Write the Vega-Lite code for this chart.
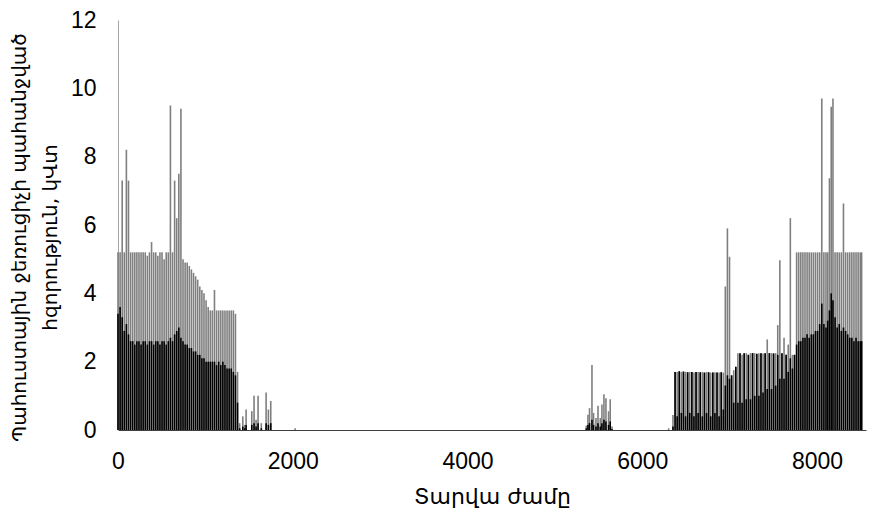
{
 "$schema": "https://vega.github.io/schema/vega-lite/v6.json",
 "width": 748,
 "height": 410,
 "autosize": {"type": "none"},
 "padding": {"left": 118, "top": 20, "right": 3, "bottom": 85},
 "background": "white",
 "config": {
  "view": {"stroke": null},
  "axis": {"grid": false, "ticks": false, "labelFont": "Liberation Sans Narrow, Liberation Sans", "labelFontSize": 23, "labelColor": "#000", "titleColor": "#000", "titleFont": "DejaVu Sans", "labelFlush": false}
 },
 "data": {"values": [
  {"h":0,"p":5.2,"b":3.4},{"h":24,"p":5.2,"b":3.6},{"h":48,"p":7.3,"b":3.3},{"h":72,"p":5.2,"b":2.9},{"h":96,"p":8.2,"b":3.1},{"h":120,"p":7.3,"b":2.8},{"h":144,"p":5.2,"b":2.6},{"h":168,"p":5.2,"b":2.6},{"h":192,"p":5.2,"b":2.5},{"h":216,"p":5.2,"b":2.6},{"h":240,"p":5.2,"b":2.6},{"h":264,"p":5.2,"b":2.5},{"h":288,"p":5.2,"b":2.6},{"h":312,"p":5.2,"b":2.6},{"h":336,"p":5.1,"b":2.5},{"h":360,"p":5.2,"b":2.6},{"h":384,"p":5.5,"b":2.6},{"h":408,"p":5.2,"b":2.5},{"h":432,"p":5.2,"b":2.6},{"h":456,"p":5.1,"b":2.6},{"h":480,"p":5.2,"b":2.5},{"h":504,"p":5.2,"b":2.6},{"h":528,"p":5.0,"b":2.6},{"h":552,"p":5.2,"b":2.5},{"h":576,"p":5.2,"b":2.6},{"h":600,"p":9.5,"b":2.7},{"h":624,"p":5.2,"b":2.6},{"h":648,"p":7.3,"b":2.8},{"h":672,"p":6.2,"b":2.9},{"h":696,"p":7.5,"b":3.0},{"h":720,"p":9.4,"b":2.7},{"h":744,"p":5.0,"b":2.6},{"h":768,"p":4.9,"b":2.5},{"h":792,"p":4.9,"b":2.5},{"h":816,"p":4.8,"b":2.4},{"h":840,"p":4.7,"b":2.4},{"h":864,"p":4.6,"b":2.3},{"h":888,"p":4.5,"b":2.3},{"h":912,"p":4.4,"b":2.2},{"h":936,"p":4.2,"b":2.2},{"h":960,"p":4.1,"b":2.1},{"h":984,"p":4.0,"b":2.1},{"h":1008,"p":3.8,"b":2.0},{"h":1032,"p":3.6,"b":2.0},{"h":1056,"p":3.5,"b":2.0},{"h":1080,"p":3.5,"b":2.0},{"h":1104,"p":4.1,"b":2.0},{"h":1128,"p":3.5,"b":1.9},{"h":1152,"p":3.5,"b":2.0},{"h":1176,"p":3.5,"b":1.9},{"h":1200,"p":3.5,"b":2.0},{"h":1224,"p":3.5,"b":1.9},{"h":1248,"p":3.5,"b":1.8},{"h":1272,"p":3.5,"b":1.8},{"h":1296,"p":3.5,"b":1.8},{"h":1320,"p":3.5,"b":1.7},{"h":1344,"p":3.4,"b":1.6},{"h":1368,"p":1.7,"b":0.8},{"h":1392,"p":0.2,"b":0.05},{"h":1428,"p":0.4,"b":0.1},{"h":1450,"p":0.15,"b":0.05},{"h":1466,"p":0.6,"b":0.15},{"h":1531,"p":0.55,"b":0.15},{"h":1557,"p":1.0,"b":0.2},{"h":1580,"p":0.3,"b":0.1},{"h":1603,"p":1.0,"b":0.2},{"h":1640,"p":0.2,"b":0.05},{"h":1695,"p":1.1,"b":0.2},{"h":1721,"p":0.6,"b":0.15},{"h":1748,"p":0.85,"b":0.2},{"h":2027,"p":0.05,"b":0},
  {"h":5359,"p":0.13,"b":0.05},{"h":5378,"p":0.45,"b":0.15},{"h":5396,"p":0.64,"b":0.2},{"h":5424,"p":1.9,"b":0.3},{"h":5442,"p":0.5,"b":0.15},{"h":5470,"p":0.35,"b":0.1},{"h":5493,"p":0.71,"b":0.2},{"h":5519,"p":0.35,"b":0.1},{"h":5538,"p":0.75,"b":0.2},{"h":5561,"p":1.05,"b":0.3},{"h":5584,"p":0.93,"b":0.25},{"h":5614,"p":0.55,"b":0.15},{"h":5633,"p":0.9,"b":0.25},{"h":5653,"p":0.1,"b":0.03},
  {"h":6301,"p":0.05,"b":0},{"h":6351,"p":0.44,"b":0.1},{"h":6375,"p":1.7,"b":1.7},{"h":6399,"p":1.7,"b":0.4},{"h":6423,"p":1.72,"b":1.72},{"h":6447,"p":1.7,"b":0.5},{"h":6471,"p":1.71,"b":1.71},{"h":6495,"p":1.7,"b":0.4},{"h":6519,"p":1.69,"b":1.69},{"h":6543,"p":1.7,"b":0.5},{"h":6567,"p":1.7,"b":1.7},{"h":6591,"p":1.68,"b":0.4},{"h":6615,"p":1.7,"b":1.7},{"h":6639,"p":1.7,"b":0.5},{"h":6663,"p":1.69,"b":1.69},{"h":6687,"p":1.7,"b":0.4},{"h":6711,"p":1.68,"b":1.68},{"h":6735,"p":1.7,"b":0.5},{"h":6759,"p":1.69,"b":1.69},{"h":6783,"p":1.68,"b":0.4},{"h":6807,"p":1.68,"b":1.68},{"h":6831,"p":1.69,"b":0.5},{"h":6855,"p":1.68,"b":1.68},{"h":6879,"p":1.68,"b":0.4},{"h":6903,"p":1.69,"b":1.69},{"h":6927,"p":1.68,"b":0.6},{"h":6950,"p":4.2,"b":1.3},{"h":6974,"p":5.9,"b":1.6},{"h":6998,"p":5.07,"b":1.5},{"h":7022,"p":1.6,"b":1.6},{"h":7046,"p":1.75,"b":0.8},{"h":7070,"p":1.85,"b":1.85},
  {"h":7094,"p":2.25,"b":0.8},{"h":7118,"p":2.25,"b":2.25},{"h":7142,"p":2.2,"b":0.8},{"h":7166,"p":2.25,"b":2.25},{"h":7190,"p":2.25,"b":0.9},{"h":7214,"p":2.2,"b":2.2},{"h":7238,"p":2.25,"b":0.9},{"h":7262,"p":2.25,"b":2.25},{"h":7286,"p":2.25,"b":1.0},{"h":7310,"p":2.23,"b":2.23},{"h":7334,"p":2.25,"b":1.0},{"h":7358,"p":2.25,"b":2.25},{"h":7382,"p":2.24,"b":1.1},{"h":7406,"p":2.25,"b":2.25},{"h":7430,"p":2.65,"b":1.2},{"h":7454,"p":2.25,"b":2.25},{"h":7478,"p":2.25,"b":1.2},{"h":7502,"p":2.24,"b":2.24},{"h":7526,"p":2.25,"b":1.3},{"h":7550,"p":3.07,"b":2.2},{"h":7574,"p":4.97,"b":1.5},{"h":7598,"p":2.25,"b":2.25},{"h":7622,"p":2.7,"b":1.5},{"h":7646,"p":2.2,"b":2.2},{"h":7670,"p":2.5,"b":1.7},{"h":7694,"p":6.2,"b":2.1},{"h":7718,"p":2.2,"b":1.8},{"h":7742,"p":2.2,"b":2.2},
  {"h":7766,"p":5.2,"b":2.5},{"h":7790,"p":5.2,"b":2.6},{"h":7814,"p":5.2,"b":2.6},{"h":7838,"p":5.2,"b":2.7},{"h":7862,"p":5.2,"b":2.7},{"h":7886,"p":5.2,"b":2.8},{"h":7910,"p":5.2,"b":2.7},{"h":7934,"p":5.2,"b":2.8},{"h":7958,"p":5.2,"b":2.8},{"h":7982,"p":5.2,"b":2.9},{"h":8006,"p":5.2,"b":2.9},{"h":8030,"p":5.2,"b":3.1},{"h":8054,"p":9.7,"b":3.7},{"h":8078,"p":5.2,"b":3.1},{"h":8102,"p":5.2,"b":3.0},{"h":8122,"p":5.2,"b":3.2},{"h":8142,"p":7.37,"b":3.5},{"h":8162,"p":9.46,"b":4.0},{"h":8182,"p":9.7,"b":3.8},{"h":8206,"p":5.2,"b":3.3},{"h":8230,"p":5.2,"b":3.0},{"h":8254,"p":5.2,"b":3.1},{"h":8278,"p":5.2,"b":2.9},{"h":8302,"p":6.63,"b":3.0},{"h":8326,"p":5.2,"b":2.9},{"h":8350,"p":5.2,"b":2.8},{"h":8374,"p":5.2,"b":2.7},{"h":8398,"p":5.2,"b":2.7},{"h":8422,"p":5.2,"b":2.6},{"h":8446,"p":5.2,"b":2.7},{"h":8470,"p":5.2,"b":2.6},{"h":8494,"p":5.2,"b":2.6},{"h":8510,"p":5.2,"b":2.6}
 ]},
 "layer": [
  {
   "mark": {"type": "rule", "color": "#7f7f7f", "strokeWidth": 1.6},
   "encoding": {
    "x": {"field": "h", "type": "quantitative", "scale": {"domain": [0, 8560], "nice": false},
          "axis": {"values": [0, 2000, 4000, 6000, 8000], "format": "d", "labelPadding": 20, "domainColor": "#404040", "title": "Տարվա ժամը", "titleFontSize": 22, "titleFontWeight": "normal", "titleY": 66, "titleBaseline": "middle"}},
    "y": {"field": "p", "type": "quantitative", "scale": {"domain": [0, 12], "nice": false},
          "axis": {"values": [0, 2, 4, 6, 8, 10, 12], "labelPadding": 22, "domainColor": "#a6a6a6", "title": ["Պահուստային ջեռուցիչի պահանջված", "հզորություն, կՎտ"], "titleFontSize": 20, "titleFontWeight": "normal", "titleLineHeight": 31, "titleX": -99, "titleY": 217, "titleBaseline": "middle", "titleAlign": "center"}},
    "y2": {"datum": 0}
   }
  },
  {
   "mark": {"type": "rule", "color": "#000000", "strokeWidth": 1.6},
   "encoding": {
    "x": {"field": "h", "type": "quantitative"},
    "y": {"field": "b", "type": "quantitative"},
    "y2": {"datum": 0}
   }
  }
 ]
}
